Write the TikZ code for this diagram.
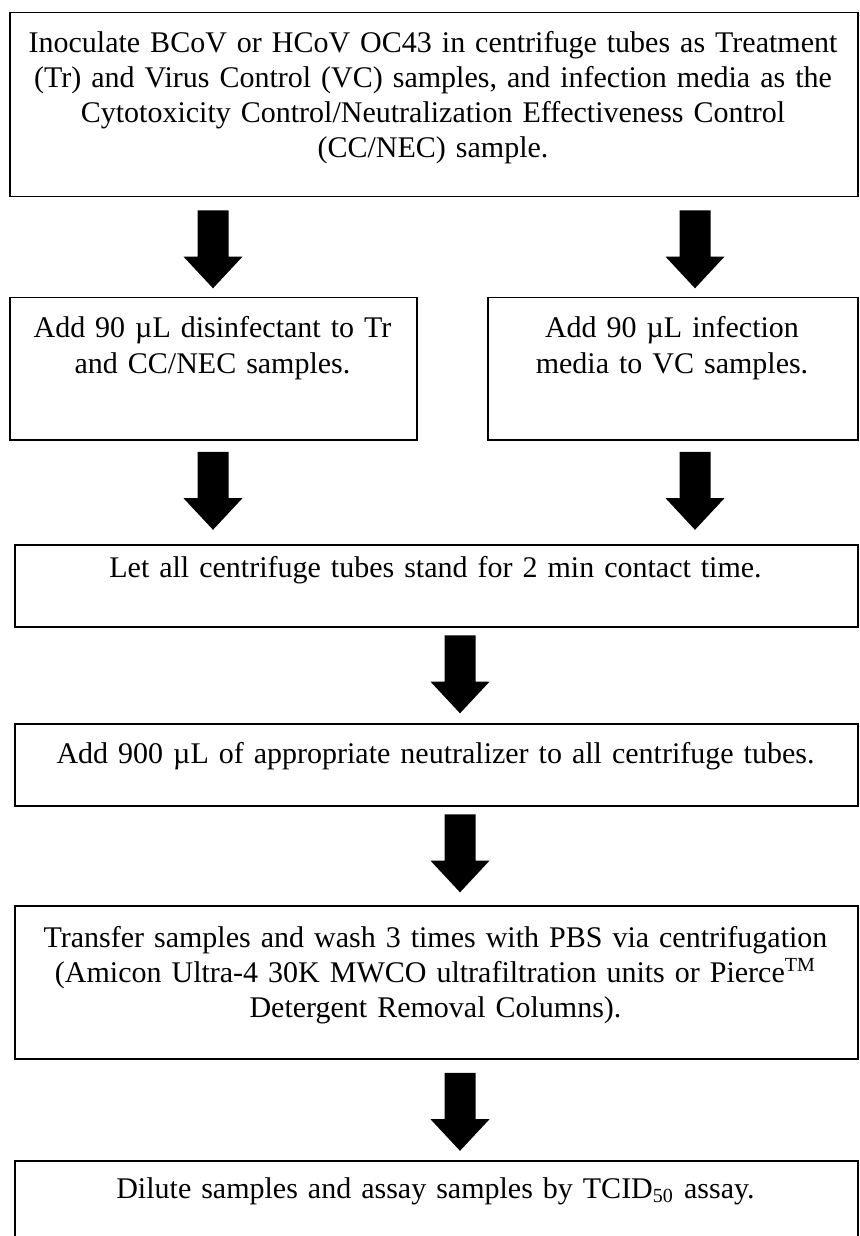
\documentclass[tikz,border=0pt]{standalone}
\usepackage{fontspec}
\setmainfont{Liberation Serif}
\usetikzlibrary{shapes.arrows}

\begin{document}
\begin{tikzpicture}[
    x=1pt, y=1pt,
    stepbox/.style={
        rectangle, draw, line width=0.6pt, inner sep=0pt, anchor=north west
    },
    steptext/.style={
        anchor=base, align=center, inner sep=0pt, text width=#1,
        font=\fontsize{12}{14}\selectfont
    },
    steptext/.default=340pt,
    downarrow/.style={
        single arrow, fill=black, draw=none, inner sep=6pt,
        shape border rotate=270, minimum height=31.2pt, minimum width=23.2pt,
        single arrow head extend=5.6pt, single arrow tip angle=86
    }
]
\useasboundingbox (0,0) rectangle (343.6,-494.4);

% Step 1: inoculation
\node[stepbox, minimum width=339.2pt, minimum height=73.6pt] (inoc) at (3.6,-4.8) {};
\node[steptext] (inoc-t) at (173.2,-21.2) {Inoculate BCoV or HCoV OC43 in centrifuge tubes as Treatment\\(Tr) and Virus Control (VC) samples, and infection media as the\\Cytotoxicity Control/Neutralization Effectiveness Control\\(CC/NEC) sample.};

% Step 2: disinfectant / media
\node[stepbox, minimum width=162.8pt, minimum height=56.8pt] (disinf) at (3.6,-118.8) {};
\node[steptext=160pt] (disinf-t) at (85,-135.2) {Add 90 µL disinfectant to Tr\\and CC/NEC samples.};
\node[stepbox, minimum width=148pt, minimum height=56.8pt] (vcmedia) at (194.8,-118.8) {};
\node[steptext=146pt] (vcmedia-t) at (268.8,-135.2) {Add 90 µL infection\\media to VC samples.};

% Step 3: contact time
\node[stepbox, minimum width=337.2pt, minimum height=32.8pt] (stand) at (5.6,-217.6) {};
\node[steptext] (stand-t) at (174.2,-230.8) {Let all centrifuge tubes stand for 2 min contact time.};

% Step 4: neutralizer
\node[stepbox, minimum width=337.2pt, minimum height=32.8pt] (neutr) at (5.6,-289.2) {};
\node[steptext] (neutr-t) at (174.2,-305.2) {Add 900 µL of appropriate neutralizer to all centrifuge tubes.};

% Step 5: washing
\node[stepbox, minimum width=337.2pt, minimum height=61.2pt] (wash) at (5.6,-362) {};
\node[steptext] (wash-t) at (174.2,-378.8) {Transfer samples and wash 3 times with PBS via centrifugation\\(Amicon Ultra-4 30K MWCO ultrafiltration units or Pierce\textsuperscript{TM}\\Detergent Removal Columns).};

% Step 6: assay
\node[stepbox, minimum width=337.2pt, minimum height=40pt] (assay) at (5.6,-464) {};
\node[steptext] (assay-t) at (174.2,-479.2) {Dilute samples and assay samples by TCID\textsubscript{50} assay.};

% Arrows
\node[downarrow] (arr-l1) at (85.2,-96.4) {};
\node[downarrow] (arr-r1) at (278,-96.4) {};
\node[downarrow] (arr-l2) at (85.2,-193) {};
\node[downarrow] (arr-r2) at (278,-193) {};
\node[downarrow] (arr-3) at (184,-266.4) {};
\node[downarrow] (arr-4) at (184,-338) {};
\node[downarrow] (arr-5) at (184,-441.4) {};

\end{tikzpicture}
\end{document}
